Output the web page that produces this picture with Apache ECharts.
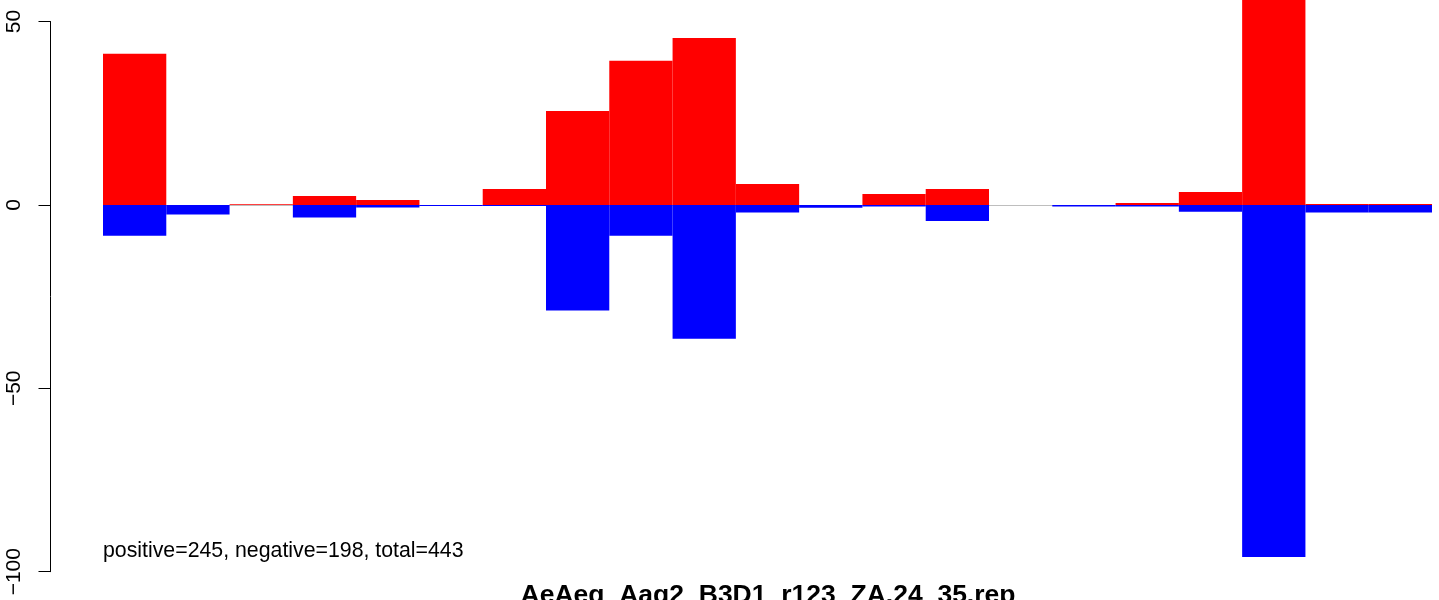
<!DOCTYPE html>
<html>
<head>
<meta charset="utf-8">
<script src="https://cdn.jsdelivr.net/npm/echarts@6/dist/echarts.min.js"></script>
<style>
html,body{margin:0;padding:0;background:#fff;}
#chart{width:1439px;height:600px;}
</style>
</head>
<body>
<div id="chart"></div>
<script>
// Data
const categories = ['1','2','3','4','5','6','7','8','9','10','11','12','13','14','15','16','17','18','19','20','21'];
const positiveValues = [41.2, 0, 0.2, 2.45, 1.36, 0, 4.36, 25.6, 39.3, 45.5, 5.7, 0, 3.0, 4.36, 0, 0, 0.55, 3.5, 67.6, 0.27, 0.27];
const negativeValues = [-8.4, -2.6, 0, -3.45, -0.7, -0.3, -0.3, -28.8, -8.4, -36.5, -2.1, -0.8, -0.45, -4.36, 0, -0.45, -0.45, -1.9, -96.0, -2.1, -2.1];
const yTicks = [-100, -50, 0, 50];
const annotation = 'positive=245, negative=198, total=443';
const title = 'AeAeg_Aag2_B3D1_r123_ZA.24_35.rep';

const chart = echarts.init(document.getElementById('chart'), null, {renderer: 'canvas'});
const FONT = '"Liberation Sans", Arial, Helvetica, sans-serif';

chart.setOption({
  animation: false,
  backgroundColor: '#ffffff',
  grid: {left: 103, right: 7, top: 21.5, bottom: 28.3, containLabel: false},
  xAxis: {
    type: 'category',
    data: categories,
    boundaryGap: true,
    show: false
  },
  yAxis: {
    type: 'value',
    min: yTicks[0],
    max: yTicks[yTicks.length - 1],
    interval: 50,
    offset: 52.5,
    axisLine: {show: true, lineStyle: {color: '#000', width: 1}},
    axisTick: {show: true, length: 12, inside: false, lineStyle: {color: '#000', width: 1}},
    axisLabel: {
      rotate: 90, margin: 26, color: '#000', fontSize: 21, fontFamily: FONT,
      formatter: v => (v < 0 ? '\u2212' + Math.abs(v) : String(v))
    },
    splitLine: {show: false}
  },
  series: [
    {
      name: 'positive', type: 'bar', data: positiveValues,
      barGap: '-100%', barCategoryGap: 0, clip: false,
      itemStyle: {color: '#ff0000'}, z: 3,
      markLine: {
        silent: true, symbol: 'none', label: {show: false},
        lineStyle: {color: '#bebebe', width: 1, type: 'solid'},
        data: [{yAxis: 0}], z: 1
      }
    },
    {
      name: 'negative', type: 'bar', data: negativeValues,
      barGap: '-100%', barCategoryGap: 0, clip: false,
      itemStyle: {color: '#0000ff'}, z: 3
    }
  ],
  graphic: [
    {
      type: 'text', left: 103, top: 541,
      style: {text: annotation, fill: '#000', font: '21.3px ' + FONT}
    },
    {
      type: 'text', x: 768, y: 596,
      style: {text: title, fill: '#000', font: 'bold 26.5px ' + FONT, textAlign: 'center', textVerticalAlign: 'middle'}
    }
  ]
});
</script>
</body>
</html>
